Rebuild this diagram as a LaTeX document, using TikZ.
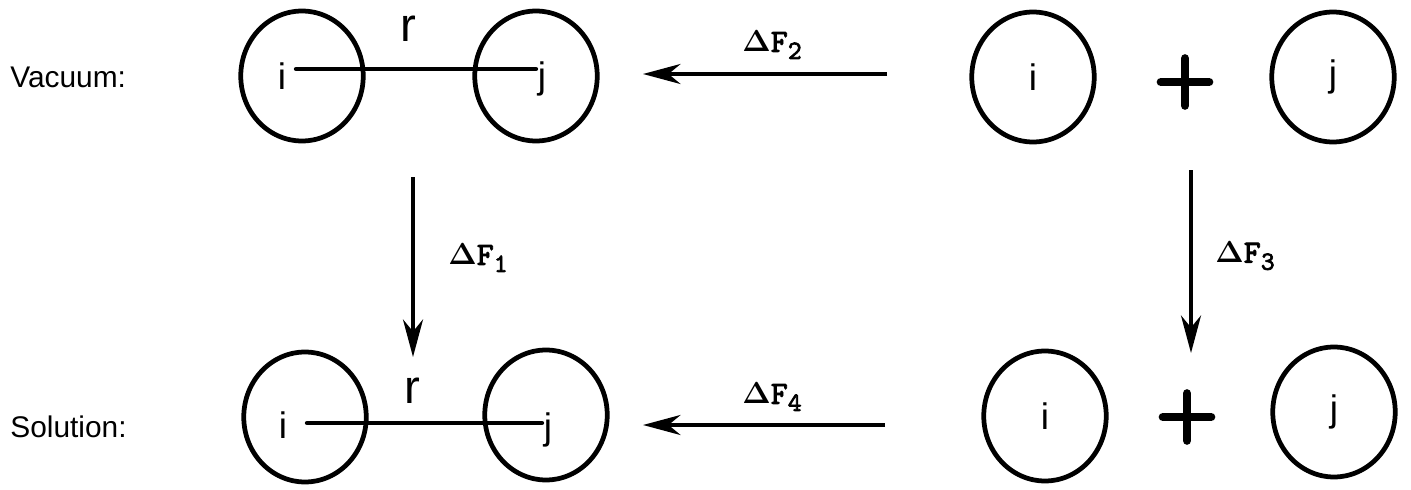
\documentclass[tikz,border=0pt]{standalone}
\usepackage{fontspec}
\setmainfont{Liberation Sans}
\newfontfamily\dffont[Extension=.otf,FakeBold=2.6]{lmmono10-regular}
\usetikzlibrary{arrows.meta,shapes.geometric}
\tikzset{
  atom/.style={draw,ellipse,line width=2.7pt,minimum width=2.45cm,minimum height=2.6cm,inner sep=0pt,font=\fontsize{21}{21}\selectfont},
  tag/.style={font=\fontsize{21}{21}\selectfont,inner sep=1pt},
  bondlen/.style={font=\fontsize{27}{27}\selectfont,inner sep=1pt},
  phase/.style={font=\fontsize{17}{18}\selectfont,anchor=west,inner sep=0pt},
  dflab/.style={font=\fontsize{18.5}{18.5}\selectfont\dffont\bfseries\boldmath,inner sep=0pt},
  bond/.style={line width=2.7pt,line cap=round},
  arrow/.style={-{Stealth[length=7.5mm,width=4mm,inset=2.4mm]},line width=2.2pt},
  plusbox/.style={minimum width=1.12cm,minimum height=1.1cm,inner sep=0pt},
  plusbar/.style={line width=4.8pt,line cap=round,shorten <=2.4pt,shorten >=2.4pt}
}
\newcommand{\dF}[1]{$\Delta$F\raisebox{-0.5ex}{\fontsize{15}{15}\selectfont#1}}

\begin{document}
\begin{tikzpicture}[x=0.02cm,y=-0.02cm]
  \useasboundingbox (0,0) rectangle (1411,490);

  % vacuum row
  \node[phase] (vac) at (10,77) {Vacuum:};
  \node[atom] (vi) at (302,76) {};
  \node[atom] (vj) at (536,76) {};
  \node[tag] (vit) at (282,76) {i};
  \node[tag] (vjt) at (542,79) {j};
  \draw[bond,shorten <=0.16cm] ([yshift=0.14cm]vit.east) -- ([yshift=0.14cm]vit.east -| vjt.west);
  \node[bondlen] (vr) at (408,29) {r};

  \node[atom] (fi) at (1033,77) {i};
  \node[plusbox] (vplus) at (1185,82) {};
  \draw[plusbar] (vplus.west) -- (vplus.east);
  \draw[plusbar] (vplus.north) -- (vplus.south);
  \node[atom] (fj) at (1333,77) {j};

  % solution row
  \node[phase] (sol) at (10,427) {Solution:};
  \node[atom] (si) at (305,417) {};
  \node[atom] (sj) at (546,415) {};
  \node[tag] (sit) at (283,425) {i};
  \node[tag] (sjt) at (548,430) {j};
  \draw[bond,shorten <=0.36cm] ([yshift=0.04cm]sit.east) -- ([yshift=0.04cm]sit.east -| sjt.west);
  \node[bondlen] (sr) at (412,391) {r};

  \node[atom] (gi) at (1045,416) {i};
  \node[plusbox] (splus) at (1187,417) {};
  \draw[plusbar] (splus.west) -- (splus.east);
  \draw[plusbar] (splus.north) -- (splus.south);
  \node[atom] (gj) at (1334,412) {j};

  % free energy steps
  \coordinate (a2s) at (887,74);  \coordinate (a2e) at (643,74);
  \coordinate (a1s) at (413,177); \coordinate (a1e) at (413,357);
  \coordinate (a3s) at (1191,170); \coordinate (a3e) at (1191,353);
  \coordinate (a4s) at (885,425); \coordinate (a4e) at (643,425);
  \draw[arrow] (a2s) -- (a2e);
  \draw[arrow] (a1s) -- (a1e);
  \draw[arrow] (a3s) -- (a3e);
  \draw[arrow] (a4s) -- (a4e);
  \node[dflab] (df2) at (772,45) {\dF{2}};
  \node[dflab] (df1) at (478,258) {\dF{1}};
  \node[dflab] (df3) at (1245,256) {\dF{3}};
  \node[dflab] (df4) at (772,397) {\dF{4}};
\end{tikzpicture}
\end{document}
